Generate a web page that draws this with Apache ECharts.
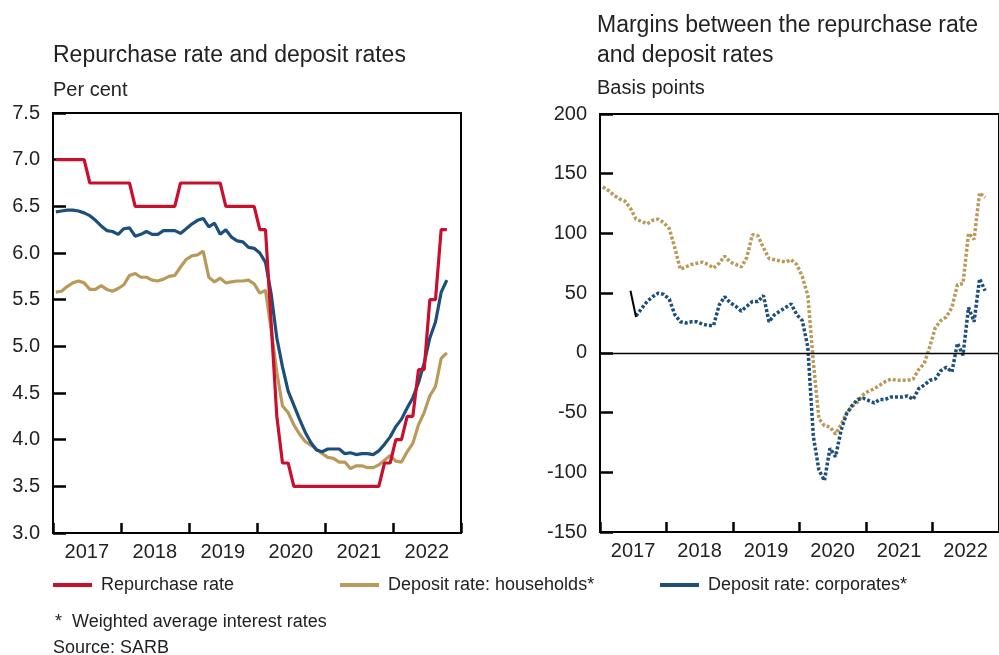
<!DOCTYPE html>
<html>
<head>
<meta charset="utf-8">
<script src="https://cdn.jsdelivr.net/npm/echarts@6/dist/echarts.min.js"></script>
<style>
  html, body { margin: 0; padding: 0; background: #fff; }
  #chart { width: 999px; height: 655px; }
</style>
</head>
<body>
<div id="chart"></div>
<script>
// months Jan 2017 - Dec 2022 on the category axis
const years = [2017, 2018, 2019, 2020, 2021, 2022];
const months = [];
years.forEach(function (y) {
    for (let m = 1; m <= 12; m++) {
        months.push(y + '-' + (m < 10 ? '0' + m : m));
    }
});

// left panel, per cent (Jan 2017 - Oct 2022)
const repoRate = [
    7.0, 7.0, 7.0, 7.0, 7.0, 7.0,
    6.75, 6.75, 6.75, 6.75, 6.75, 6.75, 6.75, 6.75,
    6.5, 6.5, 6.5, 6.5, 6.5, 6.5, 6.5, 6.5,
    6.75, 6.75, 6.75, 6.75, 6.75, 6.75, 6.75, 6.75,
    6.5, 6.5, 6.5, 6.5, 6.5, 6.5,
    6.25, 6.25, 5.25, 4.25, 3.75, 3.75,
    3.5, 3.5, 3.5, 3.5, 3.5, 3.5, 3.5, 3.5, 3.5, 3.5, 3.5, 3.5, 3.5, 3.5, 3.5, 3.5,
    3.75, 3.75, 4.0, 4.0, 4.25, 4.25, 4.75, 4.75, 5.5, 5.5, 6.25, 6.25
];
const householdRate = [
    5.58, 5.59, 5.64, 5.68, 5.70, 5.68, 5.61, 5.61, 5.65, 5.61,
    5.59, 5.62, 5.66, 5.76, 5.78, 5.74, 5.74, 5.71, 5.70, 5.72,
    5.75, 5.76, 5.85, 5.93, 5.97, 5.98, 6.02, 5.74, 5.69, 5.73,
    5.68, 5.69, 5.70, 5.70, 5.71, 5.67, 5.57, 5.60, 5.18, 4.72,
    4.36, 4.29, 4.16, 4.06, 3.98, 3.94, 3.90, 3.85, 3.81, 3.80,
    3.76, 3.76, 3.69, 3.72, 3.72, 3.70, 3.70, 3.73, 3.78, 3.83,
    3.77, 3.76, 3.87, 3.96, 4.16, 4.29, 4.47, 4.57, 4.87, 4.93
];
const corporateRate = [
    6.44, 6.45, 6.46, 6.46, 6.45, 6.43, 6.40, 6.35, 6.29, 6.24,
    6.23, 6.20, 6.26, 6.27, 6.18, 6.20, 6.23, 6.20, 6.20, 6.24,
    6.24, 6.24, 6.21, 6.26, 6.31, 6.35, 6.37, 6.28, 6.32, 6.20,
    6.25, 6.17, 6.13, 6.12, 6.06, 6.05, 6.00, 5.90, 5.56, 5.09,
    4.78, 4.52, 4.37, 4.22, 4.08, 3.97, 3.89, 3.87, 3.90, 3.90,
    3.90, 3.85, 3.86, 3.84, 3.85, 3.85, 3.84, 3.88, 3.95, 4.03,
    4.14, 4.22, 4.34, 4.45, 4.61, 4.82, 5.09, 5.26, 5.58, 5.71
];

// right panel, basis points
const householdMargin = [
    139, 136, 132, 129, 127, 121, 112, 110, 108, 111,
    112, 109, 104, 88, 70, 72, 74, 75, 76, 74,
    71, 75, 81, 76, 74, 72, 80, 99, 98, 88,
    79, 78, 77, 76, 78, 74, 64, 48, -8, -55,
    -61, -62, -68, -60, -50, -45, -41, -35, -32, -30,
    -27, -24, -22, -23, -23, -23, -22, -14, -9, 5,
    21, 27, 30, 38, 57, 58, 100, 95, 134, 130
];
const corporateMargin = [
    null, null, null, null, null, null, 31, 37, 43, 47,
    50, 49, 45, 32, 26, 25, 26, 26, 24, 23,
    23, 40, 47, 42, 39, 35, 39, 43, 43, 48,
    26, 32, 35, 38, 41, 32, 27, 5, -70, -98,
    -107, -80, -87, -65, -51, -44, -39, -38, -40, -42,
    -39, -39, -37, -37, -37, -36, -39, -30, -27, -23,
    -22, -15, -12, -16, 8, -2, 38, 26, 62, 52
];
const blackSegment = [null, null, null, null, null, 52, 30];

const RED = '#c8102e';
const GOLD = '#b99a5b';
const BLUE = '#1d4f7c';
const TEXT = '#222';
const FONT = '"Liberation Sans", Arial, sans-serif';

function xAxisFor(gridIndex) {
    return {
        type: 'category',
        gridIndex: gridIndex,
        data: months,
        boundaryGap: true,
        axisLine: { show: false, onZero: false },
        axisTick: {
            show: true,
            inside: true,
            length: 10,
            interval: function (idx) { return idx % 12 === 0; },
            lineStyle: { color: '#000', width: 2.5 }
        },
        axisLabel: {
            interval: function (idx) { return idx % 12 === 6; },
            formatter: function (v) { return v.slice(0, 4); },
            color: TEXT,
            fontFamily: FONT,
            fontSize: 20,
            margin: 9,
            padding: [0, 6, 0, 0]
        },
        splitLine: { show: false }
    };
}

function yAxisFor(gridIndex, min, max, interval, digits) {
    return {
        type: 'value',
        gridIndex: gridIndex,
        min: min,
        max: max,
        interval: interval,
        axisLine: { show: false, onZero: false },
        axisTick: {
            show: true,
            inside: true,
            length: 13,
            lineStyle: { color: '#000', width: 2.5 }
        },
        axisLabel: {
            formatter: function (v) { return v.toFixed(digits); },
            color: TEXT,
            fontFamily: FONT,
            fontSize: 20,
            margin: 13
        },
        splitLine: { show: false }
    };
}

function textItem(str, left, top, size) {
    return {
        type: 'text',
        left: left,
        top: top,
        style: { text: str, fill: TEXT, font: size + 'px ' + FONT }
    };
}

function legendFor(name, left) {
    return {
        left: left,
        top: 576,
        padding: 0,
        icon: 'rect',
        itemWidth: 39,
        itemHeight: 4,
        selectedMode: false,
        data: [name],
        textStyle: { color: TEXT, fontFamily: FONT, fontSize: 18, lineHeight: 18, padding: [0, 0, 0, 4] }
    };
}

let chart = echarts.init(document.getElementById('chart'));

let option = {
    animation: false,
    backgroundColor: '#fff',
    grid: [
        { left: 53, top: 113, width: 408, height: 420, show: true, borderColor: '#000', borderWidth: 2 },
        { left: 600, top: 114, width: 407, height: 418, show: true, borderColor: '#000', borderWidth: 2 }
    ],
    xAxis: [xAxisFor(0), xAxisFor(1)],
    yAxis: [yAxisFor(0, 3, 7.5, 0.5, 1), yAxisFor(1, -150, 200, 50, 0)],
    legend: [
        legendFor('Repurchase rate', 53),
        legendFor('Deposit rate: households*', 340),
        legendFor('Deposit rate: corporates*', 660)
    ],
    graphic: [
        textItem('Repurchase rate and deposit rates', 53, 44, 23),
        textItem('Per cent', 53, 80, 20),
        textItem('Margins between the repurchase rate', 597, 14, 23),
        textItem('and deposit rates', 597, 44, 23),
        textItem('Basis points', 597, 78, 20),
        textItem('*  Weighted average interest rates', 55, 613, 18),
        textItem('Source: SARB', 53, 639, 18)
    ],
    series: [
        {
            name: 'Repurchase rate', type: 'line', xAxisIndex: 0, yAxisIndex: 0,
            data: repoRate, showSymbol: false, color: RED,
            lineStyle: { width: 3.2, color: RED }, z: 4
        },
        {
            name: 'Deposit rate: households*', type: 'line', xAxisIndex: 0, yAxisIndex: 0,
            data: householdRate, showSymbol: false, color: GOLD,
            lineStyle: { width: 3.2, color: GOLD }, z: 2
        },
        {
            name: 'Deposit rate: corporates*', type: 'line', xAxisIndex: 0, yAxisIndex: 0,
            data: corporateRate, showSymbol: false, color: BLUE,
            lineStyle: { width: 3.2, color: BLUE }, z: 3
        },
        {
            name: 'Margin: households', type: 'line', xAxisIndex: 1, yAxisIndex: 1,
            data: householdMargin, showSymbol: false,
            lineStyle: { width: 3.5, color: GOLD, type: [3, 2] }, z: 3,
            markLine: {
                silent: true,
                symbol: 'none',
                label: { show: false },
                lineStyle: { color: '#000', width: 1.3, type: 'solid' },
                data: [{ yAxis: 0 }]
            }
        },
        {
            name: 'Margin: corporates', type: 'line', xAxisIndex: 1, yAxisIndex: 1,
            data: corporateMargin, showSymbol: false,
            lineStyle: { width: 3.5, color: BLUE, type: [3, 2] }, z: 4
        },
        {
            name: 'Margin: start', type: 'line', xAxisIndex: 1, yAxisIndex: 1,
            data: blackSegment, showSymbol: false,
            lineStyle: { width: 2, color: '#000' }, z: 5
        }
    ]
};

chart.setOption(option);
</script>
</body>
</html>
